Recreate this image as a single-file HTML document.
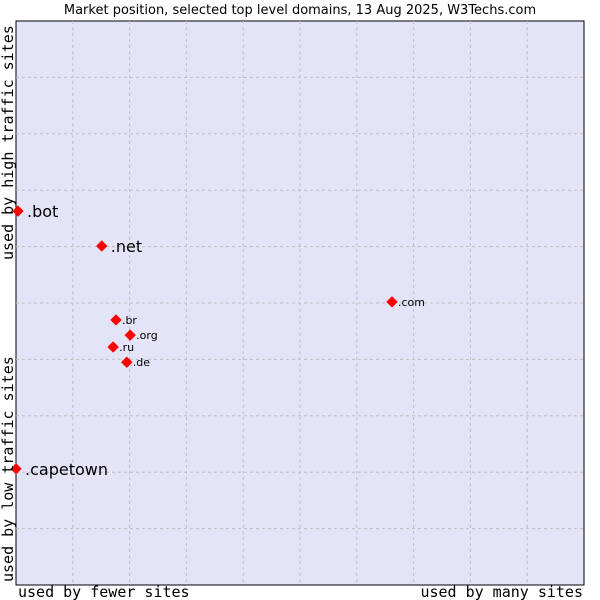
<!DOCTYPE html>
<html><head><meta charset="utf-8"><style>
body{margin:0;background:#fff;}
svg{display:block;}
</style></head><body>
<svg id="chart" width="600" height="600" xmlns="http://www.w3.org/2000/svg">
<text x="300" y="14" text-anchor="middle" font-family="DejaVu Sans, sans-serif" font-size="13" fill="#000">Market position, selected top level domains, 13 Aug 2025, W3Techs.com</text>
<rect x="16" y="21" width="568" height="564" fill="#e3e4f8" stroke="#000" stroke-width="1"/>
<g id="grid"></g>
<g id="points"></g>
<text x="18" y="597" font-family="DejaVu Sans Mono, monospace" font-size="15">used by fewer sites</text>
<text x="583" y="597" text-anchor="end" font-family="DejaVu Sans Mono, monospace" font-size="15">used by many sites</text>
<text transform="translate(13,260) rotate(-90)" font-family="DejaVu Sans Mono, monospace" font-size="15">used by high traffic sites</text>
<text transform="translate(13,582) rotate(-90)" font-family="DejaVu Sans Mono, monospace" font-size="15">used by low traffic sites</text>
</svg>
<script>
const labels = [".bot", ".net", ".com", ".br", ".org", ".ru", ".de", ".capetown"];
const xValues = [0.35, 15.1, 66.2, 17.6, 20.1, 17.1, 19.5, 0];
const yValues = [66.3, 60.1, 50.2, 47, 44.3, 42.2, 39.5, 20.6];
const bigLabel = [true, true, false, false, false, false, false, true];

const X0 = 16, X1 = 584, Y0 = 585, Y1 = 21;
function sx(v){ return X0 + v / 100 * (X1 - X0); }
function sy(v){ return Y0 - v / 100 * (Y0 - Y1); }
const NS = "http://www.w3.org/2000/svg";
const grid = document.getElementById('grid');
for (let i = 1; i < 10; i++) {
  const v = document.createElementNS(NS, 'line');
  
  
  v.setAttribute('x1', sx(i*10)); v.setAttribute('x2', sx(i*10));
  v.setAttribute('y1', Y1); v.setAttribute('y2', Y0);
  v.setAttribute('stroke', '#c0c0c0'); v.setAttribute('stroke-dasharray', '3,3');
  grid.appendChild(v);
  const h = document.createElementNS(NS, 'line');
  
  
  h.setAttribute('x1', X0); h.setAttribute('x2', X1);
  h.setAttribute('y1', sy(i*10)); h.setAttribute('y2', sy(i*10));
  h.setAttribute('stroke', '#c0c0c0'); h.setAttribute('stroke-dasharray', '3,3');
  grid.appendChild(h);
}
const pts = document.getElementById('points');
labels.forEach((lab, i) => {
  const cx = sx(xValues[i]), cy = sy(yValues[i]);
  const d = document.createElementNS(NS, 'polygon');
  
  
  d.setAttribute('points', `${cx},${cy-5} ${cx+5},${cy} ${cx},${cy+5} ${cx-5},${cy}`);
  d.setAttribute('fill', '#ff0000');
  d.setAttribute('stroke', '#ff0000');
  d.setAttribute('stroke-linejoin', 'round');
  d.setAttribute('stroke-width', '1');
  pts.appendChild(d);
  const t = document.createElementNS(NS, 'text');
  
  
  t.setAttribute('x', cx + (bigLabel[i] ? 9 : 6));
  t.setAttribute('y', cy + (bigLabel[i] ? 6 : 4));
  t.setAttribute('font-family', 'DejaVu Sans, sans-serif');
  t.setAttribute('font-size', bigLabel[i] ? '16' : '11');
  t.textContent = lab;
  pts.appendChild(t);
});
</script>
</body></html>
